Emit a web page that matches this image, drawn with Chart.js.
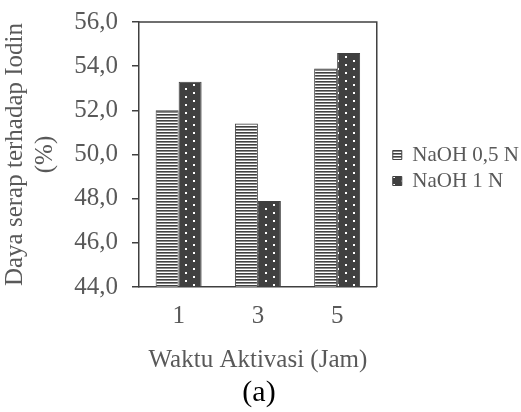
<!DOCTYPE html>
<html>
<head>
<meta charset="utf-8">
<script src="https://cdn.jsdelivr.net/npm/chart.js@4.4.1/dist/chart.umd.min.js"></script>
<style>
  html, body { margin: 0; padding: 0; background: #fff; }
  #wrap { width: 521px; height: 412px; }
</style>
</head>
<body>
<div id="wrap"><canvas id="chart" width="521" height="412"></canvas></div>
<script>
// data
var categories = ['1', '3', '5'];
var naoh05 = [52.0, 51.4, 53.9];
var naoh1 = [53.3, 47.9, 54.6];
var seriesNames = ['NaOH 0,5 N', 'NaOH 1 N'];
var yMin = 44, yMax = 56, yStep = 2;

var dark = '#404040';
var textGray = '#595959';
var serif = "'Liberation Serif', 'Times New Roman', serif";

// horizontal stripes
function stripePattern() {
    var c = document.createElement('canvas');
    c.width = 4; c.height = 3;
    var g = c.getContext('2d');
    g.fillStyle = '#fff';
    g.fillRect(0, 0, 4, 3);
    g.fillStyle = dark;
    g.fillRect(0, 0, 4, 1);
    g.fillStyle = '#8a8a8a';
    g.fillRect(0, 1, 4, 1);
    return g.createPattern(c, 'repeat');
}

// dark fill with small white dots
function dotPattern() {
    var c = document.createElement('canvas');
    c.width = 16; c.height = 8;
    var g = c.getContext('2d');
    g.fillStyle = dark;
    g.fillRect(0, 0, 16, 8);
    g.fillStyle = '#fff';
    g.fillRect(9, 0, 2, 2);
    g.fillRect(1, 4, 2, 2);
    return g.createPattern(c, 'repeat');
}

// box around the plot area
var frame = {
    id: 'frame',
    afterDatasetsDraw: function (chart) {
        var a = chart.chartArea, ctx = chart.ctx;
        ctx.save();
        ctx.strokeStyle = dark;
        ctx.lineWidth = 1.5;
        ctx.beginPath();
        ctx.moveTo(a.left, a.top);
        ctx.lineTo(a.right, a.top);
        ctx.lineTo(a.right, a.bottom);
        ctx.stroke();
        ctx.restore();
    }
};

// nudge legend to where it sits in the picture
var legendShift = {
    id: 'legendShift',
    afterLayout: function (chart) {
        var l = chart.legend;
        l.left += 11; l.right += 11;
        l.top -= 38; l.bottom -= 38;
    }
};

var ctx = document.getElementById('chart');
var chart = new Chart(ctx, {
    type: 'bar',
    data: {
        labels: categories,
        datasets: [{
            label: seriesNames[0],
            data: naoh05,
            backgroundColor: stripePattern(),
            borderColor: dark,
            borderWidth: 1
        }, {
            label: seriesNames[1],
            data: naoh1,
            backgroundColor: dotPattern(),
            borderColor: dark,
            borderWidth: 1
        }]
    },
    options: {
        responsive: false,
        animation: false,
        layout: { padding: { top: 0, right: 3, bottom: 0, left: 0 } },
        datasets: { bar: { categoryPercentage: 0.58, barPercentage: 1 } },
        scales: {
            x: {
                grid: { display: false, drawTicks: false },
                border: { display: true, color: dark, width: 1.5 },
                ticks: { color: textGray, padding: 14, font: { family: serif, size: 25 } },
                title: {
                    display: true,
                    text: 'Waktu Aktivasi (Jam)',
                    color: textGray,
                    font: { family: serif, size: 25 },
                    padding: { top: 0, bottom: 0 }
                }
            },
            y: {
                min: yMin,
                max: yMax,
                afterFit: function (scale) {
                    scale.width = 139;
                    scale.paddingTop = 22;
                    scale.paddingBottom = 0;
                },
                grid: { drawOnChartArea: false, drawTicks: true, tickLength: 7, color: dark, lineWidth: 1.5 },
                border: { display: true, color: dark, width: 1.5 },
                ticks: {
                    stepSize: yStep,
                    color: textGray,
                    padding: 14,
                    font: { family: serif, size: 25 },
                    callback: function (v) { return v.toFixed(1).replace('.', ','); }
                },
                title: {
                    display: true,
                    text: ['Daya serap terhadap Iodin', '(%)'],
                    color: textGray,
                    font: { family: serif, size: 25 },
                    padding: { top: 0, bottom: 0 }
                }
            }
        },
        plugins: {
            legend: {
                position: 'right',
                maxWidth: 200,
                labels: {
                    color: textGray,
                    font: { family: serif, size: 21 },
                    boxWidth: 9,
                    boxHeight: 9,
                    padding: 5
                }
            },
            title: {
                display: true,
                position: 'bottom',
                text: '(a)',
                color: '#000',
                font: { family: serif, size: 30, weight: 'normal' },
                padding: { top: 0, bottom: 1 }
            },
            tooltip: { enabled: false }
        }
    },
    plugins: [frame, legendShift]
});
</script>
</body>
</html>
